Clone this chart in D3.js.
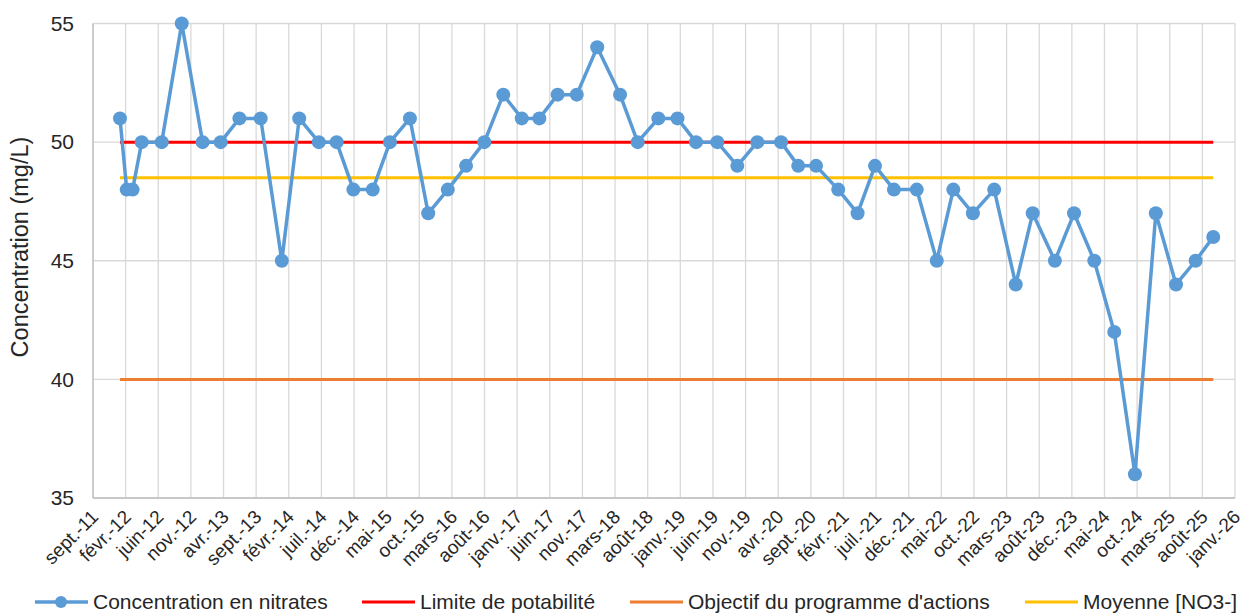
<!DOCTYPE html>
<html lang="fr">
<head>
<meta charset="UTF-8">
<title>Concentration en nitrates</title>
<style>
  body { margin: 0; background: #fff; }
  text { font-family: Arial, "Liberation Sans", sans-serif; fill: #262626; }
</style>
</head>
<body>
<script src="https://d3js.org/d3.v7.min.js"></script>
<div id="chart"></div>
<script>

// sample dates and nitrate values (mg/L)
var dates = ["2012-01-06","2012-02-06","2012-03-04","2012-04-15","2012-07-16","2012-10-16",
  "2013-01-20","2013-04-13","2013-07-08","2013-10-14","2014-01-19","2014-04-09","2014-07-08",
  "2014-09-28","2014-12-14","2015-03-13","2015-05-31","2015-08-31","2015-11-23","2016-02-21",
  "2016-05-15","2016-08-07","2016-11-02","2017-01-26","2017-04-17","2017-07-10","2017-10-06",
  "2018-01-08","2018-04-23","2018-07-13","2018-10-16","2019-01-12","2019-04-07","2019-07-14",
  "2019-10-14","2020-01-14","2020-05-02","2020-07-20","2020-10-10","2021-01-20","2021-04-19",
  "2021-07-08","2021-10-03","2022-01-16","2022-04-18","2022-07-03","2022-10-01","2023-01-07",
  "2023-04-16","2023-07-03","2023-10-13","2024-01-09","2024-04-11","2024-07-12","2024-10-15",
  "2025-01-19","2025-04-22","2025-07-21","2025-10-10"];
var nitrates = [51,48,48,50,50,55,50,50,51,51,45,51,50,50,48,48,50,51,47,48,49,50,52,51,51,52,52,
  54,52,50,51,51,50,50,49,50,50,49,49,48,47,49,48,48,45,48,47,48,44,47,45,47,45,42,36,47,44,45,46];

var limitePotabilite = 50;
var objectifProgramme = 40;
var moyenne = 48.5;

var yTicks = [35, 40, 45, 50, 55];
var axisStart = "2011-09-04", axisEnd = "2026-01-18", tickStepDays = 150;
var moisFr = ["janv.","févr.","mars","avr.","mai","juin","juil.","août","sept.","oct.","nov.","déc."];

var legendLabels = ["Concentration en nitrates", "Limite de potabilité",
  "Objectif du programme d'actions", "Moyenne [NO3-]"];

// layout
var W = 1244, H = 614;
var margin = {top: 23.5, right: 9, bottom: 116, left: 93};
var width = W - margin.left - margin.right,
    height = H - margin.top - margin.bottom;

var parse = d3.utcParse("%Y-%m-%d");
var data = dates.map(function(d, i) { return {date: parse(d), value: nitrates[i]}; });

var svg = d3.select("#chart").append("svg")
    .attr("width", W).attr("height", H);
var g = svg.append("g")
    .attr("transform", "translate(" + margin.left + "," + margin.top + ")");

var x = d3.scaleUtc()
    .domain([parse(axisStart), parse(axisEnd)])
    .range([0, width]);
var y = d3.scaleLinear()
    .domain([35, 55])
    .range([height, 0]);

// tick dates every 150 days, as Excel does
var xTicks = d3.utcDay.every(1).range(parse(axisStart), d3.utcDay.offset(parse(axisEnd), 1))
    .filter(function(d, i) { return i % tickStepDays === 0; });

function fmt(d) {
  return moisFr[d.getUTCMonth()] + "-" + String(d.getUTCFullYear()).slice(2);
}

// grid
g.append("g").selectAll("line").data(yTicks).enter().append("line")
    .attr("x1", 0).attr("x2", width)
    .attr("y1", function(d) { return y(d); }).attr("y2", function(d) { return y(d); })
    .attr("stroke", "#d9d9d9").attr("stroke-width", 1.3);
g.append("g").selectAll("line").data(xTicks).enter().append("line")
    .attr("x1", function(d) { return x(d); }).attr("x2", function(d) { return x(d); })
    .attr("y1", 0).attr("y2", height)
    .attr("stroke", "#d9d9d9").attr("stroke-width", 1.3);

// axes lines
g.append("line").attr("x1", 0).attr("x2", 0).attr("y1", 0).attr("y2", height)
    .attr("stroke", "#bfbfbf").attr("stroke-width", 1.3);
g.append("line").attr("x1", 0).attr("x2", width).attr("y1", height).attr("y2", height)
    .attr("stroke", "#bfbfbf").attr("stroke-width", 1.3);

// y labels
var yAxis = g.append("g").call(d3.axisLeft(y).tickValues(yTicks).tickSize(0).tickPadding(19));
yAxis.select(".domain").remove();
yAxis.selectAll("text").style("font-size", "21px").attr("fill", "#262626")
    .style("font-family", "Arial, 'Liberation Sans', sans-serif");

// x labels
var xAxis = g.append("g").attr("transform", "translate(0," + height + ")")
    .call(d3.axisBottom(x).tickValues(xTicks).tickFormat(fmt).tickSize(0));
xAxis.select(".domain").remove();
xAxis.selectAll("text")
    .style("font-size", "19px").attr("fill", "#262626")
    .style("font-family", "Arial, 'Liberation Sans', sans-serif")
    .attr("text-anchor", "end")
    .attr("dy", null).attr("y", 0)
    .attr("transform", "translate(6,20) rotate(-45)");

// y title
svg.append("text")
    .attr("transform", "translate(28,247) rotate(-90)")
    .attr("text-anchor", "middle")
    .style("font-size", "23.5px")
    .text("Concentration (mg/L)");

// reference lines spanning the sampled period
var first = data[0].date, last = data[data.length - 1].date;
var refs = [
  {v: objectifProgramme, c: "#ed7d31"},
  {v: moyenne, c: "#ffc000"},
  {v: limitePotabilite, c: "#ff0000"}
];
g.append("g").selectAll("line").data(refs).enter().append("line")
    .attr("x1", x(first)).attr("x2", x(last))
    .attr("y1", function(d) { return y(d.v); }).attr("y2", function(d) { return y(d.v); })
    .attr("stroke", function(d) { return d.c; }).attr("stroke-width", 3);

// nitrate series
var line = d3.line().x(function(d) { return x(d.date); }).y(function(d) { return y(d.value); });
g.append("path").datum(data)
    .attr("d", line).attr("fill", "none")
    .attr("stroke", "#5b9bd5").attr("stroke-width", 3.5).attr("stroke-linejoin", "round");
g.append("g").selectAll("circle").data(data).enter().append("circle")
    .attr("cx", function(d) { return x(d.date); })
    .attr("cy", function(d) { return y(d.value); })
    .attr("r", 7).attr("fill", "#5b9bd5");

// legend
var legendX = [35, 362, 630, 1025];
var legendC = ["#5b9bd5", "#ff0000", "#ed7d31", "#ffc000"];
var leg = svg.append("g").attr("transform", "translate(0,602)");
legendLabels.forEach(function(t, i) {
  var lx = legendX[i];
  leg.append("line").attr("x1", lx).attr("x2", lx + 53).attr("y1", 0).attr("y2", 0)
      .attr("stroke", legendC[i]).attr("stroke-width", i === 0 ? 3.5 : 3);
  if (i === 0) leg.append("circle").attr("cx", lx + 26).attr("cy", 0).attr("r", 6).attr("fill", legendC[i]);
  leg.append("text").attr("x", lx + 58).attr("y", 0).attr("dy", "0.35em")
      .style("font-size", "21px").text(t);
});

</script>
</body>
</html>
